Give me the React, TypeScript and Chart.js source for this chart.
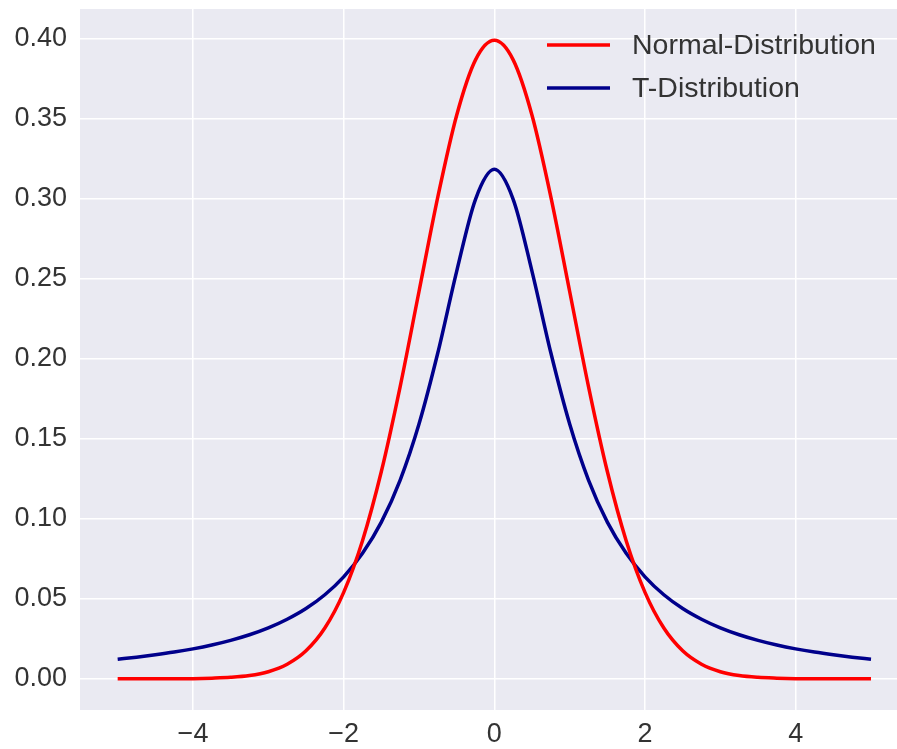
import React, { useEffect, useRef } from "react";
import { Chart, registerables } from "chart.js";

Chart.register(...registerables);

const xValues = [
  -5, -4.75, -4.5, -4.25, -4, -3.75, -3.5, -3.25, -3, -2.75, -2.5, -2.25, -2, -1.75, -1.5, -1.25, -1, -0.75, -0.5, -0.25,
  0, 0.25, 0.5, 0.75, 1, 1.25, 1.5, 1.75, 2, 2.25, 2.5, 2.75, 3, 3.25, 3.5, 3.75, 4, 4.25, 4.5, 4.75, 5,
];

const normalValues = [
  0.0000, 0.0000, 0.0000, 0.0000, 0.0001, 0.0004, 0.0009, 0.0020, 0.0044, 0.0091, 0.0175, 0.0317, 0.0540, 0.0863, 0.1295, 0.1826, 0.2420, 0.3011, 0.3521, 0.3867,
  0.3989, 0.3867, 0.3521, 0.3011, 0.2420, 0.1826, 0.1295, 0.0863, 0.0540, 0.0317, 0.0175, 0.0091, 0.0044, 0.0020, 0.0009, 0.0004, 0.0001, 0.0000, 0.0000, 0.0000, 0.0000,
];

const tValues = [
  0.0122, 0.0135, 0.0150, 0.0167, 0.0187, 0.0211, 0.0240, 0.0275, 0.0318, 0.0372, 0.0439, 0.0525, 0.0637, 0.0784, 0.0979, 0.1242, 0.1592, 0.2037, 0.2546, 0.2996,
  0.3183, 0.2996, 0.2546, 0.2037, 0.1592, 0.1242, 0.0979, 0.0784, 0.0637, 0.0525, 0.0439, 0.0372, 0.0318, 0.0275, 0.0240, 0.0211, 0.0187, 0.0167, 0.0150, 0.0135, 0.0122,
];

const seriesLabels = ["Normal-Distribution", "T-Distribution"];
const xTicks = [-4, -2, 0, 2, 4];
const yTicks = [0, 0.05, 0.1, 0.15, 0.2, 0.25, 0.3, 0.35, 0.4];

const FONT = "'Liberation Sans', Arial, sans-serif";

const bgPlugin = {
  id: "bgPlugin",
  beforeDraw(chart: any) {
    const { ctx, chartArea } = chart;
    ctx.save();
    ctx.fillStyle = "#EAEAF2";
    ctx.fillRect(chartArea.left, chartArea.top, chartArea.right - chartArea.left, chartArea.bottom - chartArea.top);
    ctx.restore();
  },
};

const legendPlugin = {
  id: "legendPlugin",
  afterDatasetsDraw(chart: any) {
    const { ctx, chartArea } = chart;
    ctx.save();
    const lineX0 = chartArea.left + 467;
    const lineX1 = chartArea.left + 530;
    const textX = chartArea.left + 552;
    chart.data.datasets.forEach((ds: any, i: number) => {
      const y = chartArea.top + 36 + i * 43;
      ctx.strokeStyle = ds.borderColor;
      ctx.lineWidth = 3.5;
      ctx.beginPath();
      ctx.moveTo(lineX0, y);
      ctx.lineTo(lineX1, y);
      ctx.stroke();
      ctx.fillStyle = "#333333";
      ctx.font = `28.5px ${FONT}`;
      ctx.textBaseline = "middle";
      ctx.textAlign = "left";
      ctx.fillText(ds.label, textX, y + 1);
    });
    ctx.restore();
  },
};

export default function App() {
  const ref = useRef<HTMLCanvasElement>(null);
  useEffect(() => {
    if (!ref.current) return;
    const chart = new Chart(ref.current, {
      type: "line",
      data: {
        datasets: [
          {
            label: seriesLabels[0],
            data: xValues.map((x, i) => ({ x, y: normalValues[i] })),
            borderColor: "#FF0000",
            borderWidth: 3.5,
            pointRadius: 0,
            cubicInterpolationMode: "monotone",
            fill: false,
          },
          {
            label: seriesLabels[1],
            data: xValues.map((x, i) => ({ x, y: tValues[i] })),
            borderColor: "#00008B",
            borderWidth: 3.5,
            pointRadius: 0,
            cubicInterpolationMode: "monotone",
            fill: false,
          },
        ],
      },
      options: {
        responsive: false,
        animation: false,
        layout: { padding: { top: 9, right: 0, left: 0, bottom: 0 } },
        plugins: { legend: { display: false }, tooltip: { enabled: false } },
        scales: {
          x: {
            type: "linear",
            min: -5.5,
            max: 5.345,
            afterBuildTicks: (scale: any) => {
              scale.ticks = xTicks.map((v) => ({ value: v }));
            },
            afterFit: (scale: any) => {
              scale.height = 39;
              scale.paddingLeft = 0;
              scale.paddingRight = 0;
            },
            grid: { color: "#FFFFFF", lineWidth: 1.5, drawTicks: false },
            border: { display: false },
            ticks: {
              padding: 8,
              color: "#333333",
              font: { family: FONT, size: 27 },
              maxRotation: 0,
              callback: (v: any) => (Number(v) < 0 ? "\u2212" + Math.abs(Number(v)) : String(v)),
            },
          },
          y: {
            type: "linear",
            min: -0.0195,
            max: 0.4185,
            afterBuildTicks: (scale: any) => {
              scale.ticks = yTicks.map((v) => ({ value: v }));
            },
            afterFit: (scale: any) => {
              scale.width = 80;
              scale.paddingTop = 0;
              scale.paddingBottom = 0;
            },
            grid: { color: "#FFFFFF", lineWidth: 1.5, drawTicks: false },
            border: { display: false },
            ticks: {
              padding: 13,
              color: "#333333",
              font: { family: FONT, size: 27 },
              callback: (v: any) => Number(v).toFixed(2),
            },
          },
        },
      },
      plugins: [bgPlugin, legendPlugin],
    });
    return () => chart.destroy();
  }, []);
  return (
    <div style={{ position: "fixed", left: 0, top: 0, width: 897, height: 749, background: "#FFFFFF" }}>
      <canvas ref={ref} width={897} height={749} style={{ display: "block" }} />
    </div>
  );
}
